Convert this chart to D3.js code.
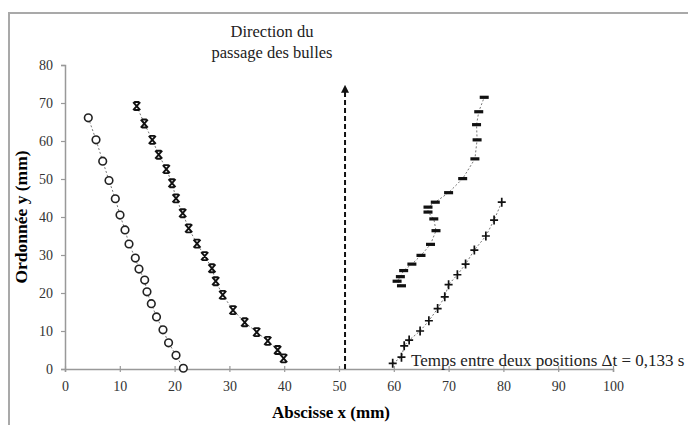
<!DOCTYPE html>
<html>
<head>
<meta charset="utf-8">
<script src="https://cdn.jsdelivr.net/npm/d3@7"></script>
<style>
  body { margin: 0; background: #fff; }
  svg text { font-family: "Liberation Serif", "Times New Roman", serif; }
</style>
</head>
<body>
<svg id="chart"></svg>
<script>
// bubble positions (mm), one array pair per bubble
const circleX = [4.25, 5.66, 6.88, 8.03, 9.18, 10.04, 10.95, 11.68, 12.83, 13.5, 14.54, 14.96, 15.75, 16.7, 17.88, 18.9, 20.26, 21.6];
const circleY = [66.1, 60.3, 54.7, 49.6, 44.8, 40.5, 36.6, 32.9, 29.2, 26.3, 23.4, 20.3, 17.2, 13.7, 10.3, 6.9, 3.6, 0.2];

const crossX = [13.08, 14.47, 15.93, 17.1, 18.49, 19.53, 20.26, 21.48, 22.57, 24.09, 25.49, 26.82, 27.5, 28.78, 30.66, 32.79, 34.98, 37.0, 38.8, 39.9];
const crossY = [69.2, 64.6, 60.3, 56.4, 52.6, 48.9, 44.9, 41.0, 37.0, 33.0, 29.7, 26.5, 23.1, 19.5, 15.5, 12.3, 9.7, 7.4, 5.0, 2.8];

const dashX = [61.4, 60.6, 61.2, 61.8, 63.3, 64.96, 66.7, 67.7, 67.3, 66.24, 66.24, 67.57, 70.0, 72.57, 74.8, 75.2, 75.1, 75.5, 76.5];
const dashY = [21.9, 23.1, 24.3, 25.9, 27.6, 29.9, 32.8, 36.4, 39.5, 41.3, 42.6, 43.9, 46.4, 50.1, 55.3, 60.3, 64.3, 67.7, 71.5];

const plusX = [59.8, 61.4, 61.9, 62.8, 64.8, 66.4, 68.0, 69.3, 70.0, 71.6, 73.1, 74.7, 76.8, 78.3, 79.7];
const plusY = [1.5, 3.1, 6.1, 7.6, 10.0, 12.7, 15.9, 19.0, 22.2, 24.8, 27.6, 31.3, 35.0, 39.2, 43.9];

// direction arrow (mm)
const arrowX = 51.1;
const arrowY = [0, 75.3];

const xTicks = [0, 10, 20, 30, 40, 50, 60, 70, 80, 90, 100];
const yTicks = [0, 10, 20, 30, 40, 50, 60, 70, 80];

const width = 688, height = 425;
const serif = '"Liberation Serif", "Times New Roman", serif';
const svg = d3.select('#chart').attr('width', width).attr('height', height);

// outer frame (cut by the window on right and bottom)
svg.append('path')
  .attr('d', 'M9,430 V13 H700')
  .attr('fill', 'none')
  .attr('stroke', '#a9a9a9')
  .attr('stroke-width', 2);

const x = d3.scaleLinear().domain([0, 100]).range([65, 613]);
const y = d3.scaleLinear().domain([0, 80]).range([369, 65]);

// x axis, ticks crossing the line
const gx = svg.append('g')
  .attr('transform', `translate(0,${y(0)})`)
  .call(d3.axisBottom(x).tickValues(xTicks).tickSize(3).tickPadding(9));
gx.selectAll('.tick line').attr('y1', -3);

// y axis
const gy = svg.append('g')
  .attr('transform', `translate(${x(0)},0)`)
  .call(d3.axisLeft(y).tickValues(yTicks).tickSize(4).tickPadding(8));

[gx, gy].forEach(g => {
  g.attr('font-family', serif);
  g.select('.domain').attr('stroke', '#999').attr('stroke-width', 1.5);
  g.selectAll('.tick line').attr('stroke', '#999').attr('stroke-width', 1.2);
  g.selectAll('.tick text')
    .attr('fill', '#333')
    .attr('font-size', 14)
    .attr('font-family', serif);
});

// axis titles
svg.append('text')
  .attr('x', 331).attr('y', 418)
  .attr('text-anchor', 'middle')
  .attr('font-family', serif)
  .attr('font-size', 17).attr('font-weight', 'bold')
  .text('Abscisse x (mm)');

svg.append('text')
  .attr('transform', 'translate(27,217) rotate(-90)')
  .attr('text-anchor', 'middle')
  .attr('font-family', serif)
  .attr('font-size', 17.5).attr('font-weight', 'bold')
  .text('Ordonnée y (mm)');

// dotted trajectories
const series = [
  { xs: circleX, ys: circleY, type: 'circle' },
  { xs: crossX, ys: crossY, type: 'cross' },
  { xs: dashX, ys: dashY, type: 'dash' },
  { xs: plusX, ys: plusY, type: 'plus' },
];

const line = d3.line().x(d => x(d[0])).y(d => y(d[1]));

series.forEach(s => {
  const pts = s.xs.map((v, i) => [v, s.ys[i]]);
  svg.append('path')
    .datum(pts)
    .attr('d', line)
    .attr('fill', 'none')
    .attr('stroke', '#777')
    .attr('stroke-width', 1)
    .attr('stroke-dasharray', '2,2');

  const g = svg.append('g').selectAll('g')
    .data(pts)
    .join('g')
    .attr('transform', d => `translate(${x(d[0])},${y(d[1])})`);

  if (s.type === 'circle') {
    g.append('circle').attr('r', 3.8)
      .attr('fill', '#fff').attr('stroke', '#222').attr('stroke-width', 1.6);
  } else if (s.type === 'cross') {
    g.append('path')
      .attr('d', 'M-3.5,-4L3.5,4M3.5,-4L-3.5,4M-2.5,-4H2.5M-2.5,4H2.5')
      .attr('fill', 'none').attr('stroke', '#111').attr('stroke-width', 1.9);
  } else if (s.type === 'dash') {
    g.append('rect').attr('x', -4.5).attr('y', -1.6).attr('width', 9).attr('height', 3.2)
      .attr('fill', '#111');
  } else {
    g.append('path')
      .attr('d', 'M-4,0H4M0,-4.5V4.5')
      .attr('fill', 'none').attr('stroke', '#111').attr('stroke-width', 1.7);
  }
});

// direction arrow
svg.append('defs').append('marker')
  .attr('id', 'head')
  .attr('viewBox', '0 0 10 10')
  .attr('refX', 5).attr('refY', 5)
  .attr('markerWidth', 4).attr('markerHeight', 4)
  .attr('orient', 'auto')
  .append('path').attr('d', 'M0,0L10,5L0,10Z').attr('fill', '#111');

svg.append('line')
  .attr('x1', x(arrowX)).attr('x2', x(arrowX))
  .attr('y1', y(arrowY[0])).attr('y2', y(arrowY[1]) + 6)
  .attr('stroke', '#111').attr('stroke-width', 2)
  .attr('stroke-dasharray', '5,3')
  .attr('marker-end', 'url(#head)');

svg.append('text')
  .attr('x', 272).attr('y', 37)
  .attr('text-anchor', 'middle').attr('font-family', serif)
  .attr('font-size', 16.5).attr('fill', '#222')
  .text('Direction du');
svg.append('text')
  .attr('x', 272).attr('y', 58)
  .attr('text-anchor', 'middle').attr('font-family', serif)
  .attr('font-size', 16.5).attr('fill', '#222')
  .text('passage des bulles');

// time step note
svg.append('text')
  .attr('x', 411).attr('y', 366)
  .attr('font-family', serif)
  .attr('font-size', 17).attr('fill', '#222')
  .text('Temps entre deux positions Δt = 0,133 s');
</script>
</body>
</html>
